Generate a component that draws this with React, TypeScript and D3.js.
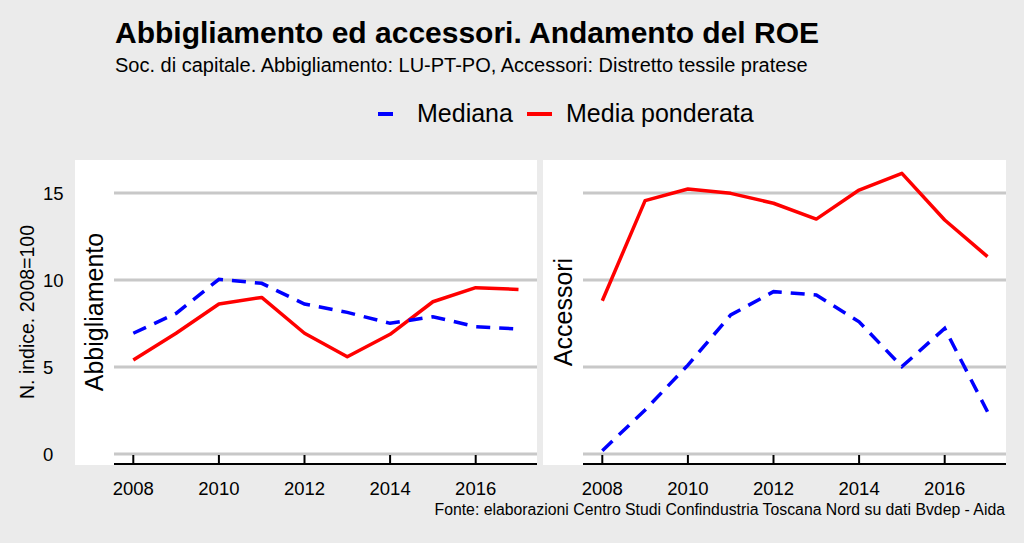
import React from "react";
import * as d3 from "d3";

const years = [2008, 2009, 2010, 2011, 2012, 2013, 2014, 2015, 2016, 2017];
const abbMediana = [6.94, 8.08, 10.04, 9.81, 8.62, 8.14, 7.51, 7.89, 7.32, 7.18];
const abbMedia = [5.4, 6.94, 8.62, 9.0, 6.94, 5.59, 6.88, 8.75, 9.56, 9.46];
const accMediana = [0.19, 2.53, 5.11, 7.99, 9.33, 9.14, 7.6, 5.02, 7.22, 2.43];
const accMedia = [8.81, 14.56, 15.23, 14.98, 14.41, 13.5, 15.17, 16.13, 13.45, 11.34];
const yTicks = [0, 5, 10, 15];
const xTicks = [2008, 2010, 2012, 2014, 2016];
const panelNames = ["Abbigliamento", "Accessori"];

const FONT = "'Liberation Sans', Arial, Helvetica, sans-serif";
const BLUE = "#0000ff";
const RED = "#ff0000";
const GRID = "#c8c8c8";

export default function App() {
  const y = d3.scaleLinear().domain([0, 15]).range([454, 193]);
  const panels = [
    { name: panelNames[0], bgX: 75, plotX0: 114, plotX1: 537, stripX: 95, med: abbMediana, avg: abbMedia },
    { name: panelNames[1], bgX: 543, plotX0: 583, plotX1: 1006, stripX: 564, med: accMediana, avg: accMedia },
  ];
  const top = 160;
  const bottom = 465;
  return (
    <div style={{ position: "absolute", left: 0, top: 0 }}>
      <svg width={1024} height={543} style={{ display: "block", fontFamily: FONT }}>
        <rect x={0} y={0} width={1024} height={543} fill="#ebebeb" />
        <text x={115} y={43} fontSize={30} fontWeight="bold" fill="#000">
          Abbigliamento ed accessori. Andamento del ROE
        </text>
        <text x={115} y={72} fontSize={20} fill="#000">
          Soc. di capitale. Abbigliamento: LU-PT-PO, Accessori: Distretto tessile pratese
        </text>
        {/* legend */}
        <line x1={378} x2={403} y1={114} y2={114} stroke={BLUE} strokeWidth={4} strokeDasharray="15,10" />
        <text x={417} y={122} fontSize={25}>Mediana</text>
        <line x1={527} x2={552} y1={114} y2={114} stroke={RED} strokeWidth={4} />
        <text x={566} y={122} fontSize={25}>Media ponderata</text>

        {/* y axis title */}
        <text
          transform={`translate(34,312) rotate(-90)`}
          textAnchor="middle"
          fontSize={19.5}
        >
          N. indice. 2008=100
        </text>
        {yTicks.map((t) => (
          <text key={t} x={43} y={y(t) + 6.5} fontSize={18.5}>
            {t}
          </text>
        ))}

        {panels.map((p, i) => {
          const x = d3.scaleLinear().domain([2008, 2017]).range([p.plotX0 + 19.3, p.plotX1 - 18.5]);
          const line = d3
            .line<number>()
            .x((_, j) => x(years[j]))
            .y((v) => y(v));
          return (
            <g key={i}>
              <rect x={p.bgX} y={top} width={p.plotX1 - p.bgX} height={bottom - top} fill="#fff" />
              <text
                transform={`translate(${p.stripX + 8},312) rotate(-90)`}
                textAnchor="middle"
                fontSize={25}
              >
                {p.name}
              </text>
              {yTicks.map((t) => (
                <line key={t} x1={p.plotX0} x2={p.plotX1} y1={y(t)} y2={y(t)} stroke={GRID} strokeWidth={3} />
              ))}
              <line x1={p.plotX0} x2={p.plotX1} y1={bottom - 1} y2={bottom - 1} stroke="#000" strokeWidth={2} />
              {xTicks.map((t) => (
                <g key={t}>
                  <line x1={x(t)} x2={x(t)} y1={455} y2={bottom} stroke="#000" strokeWidth={2} />
                  <text x={x(t)} y={494.5} textAnchor="middle" fontSize={18.5}>
                    {t}
                  </text>
                </g>
              ))}
              <path d={line(p.avg) || ""} fill="none" stroke={RED} strokeWidth={3.5} strokeLinejoin="round" />
              <path
                d={line(p.med) || ""}
                fill="none"
                stroke={BLUE}
                strokeWidth={3.5}
                strokeDasharray="14,9"
              />
            </g>
          );
        })}
        <text x={1005} y={515} textAnchor="end" fontSize={15.8}>
          Fonte: elaborazioni Centro Studi Confindustria Toscana Nord su dati Bvdep - Aida
        </text>
      </svg>
    </div>
  );
}
